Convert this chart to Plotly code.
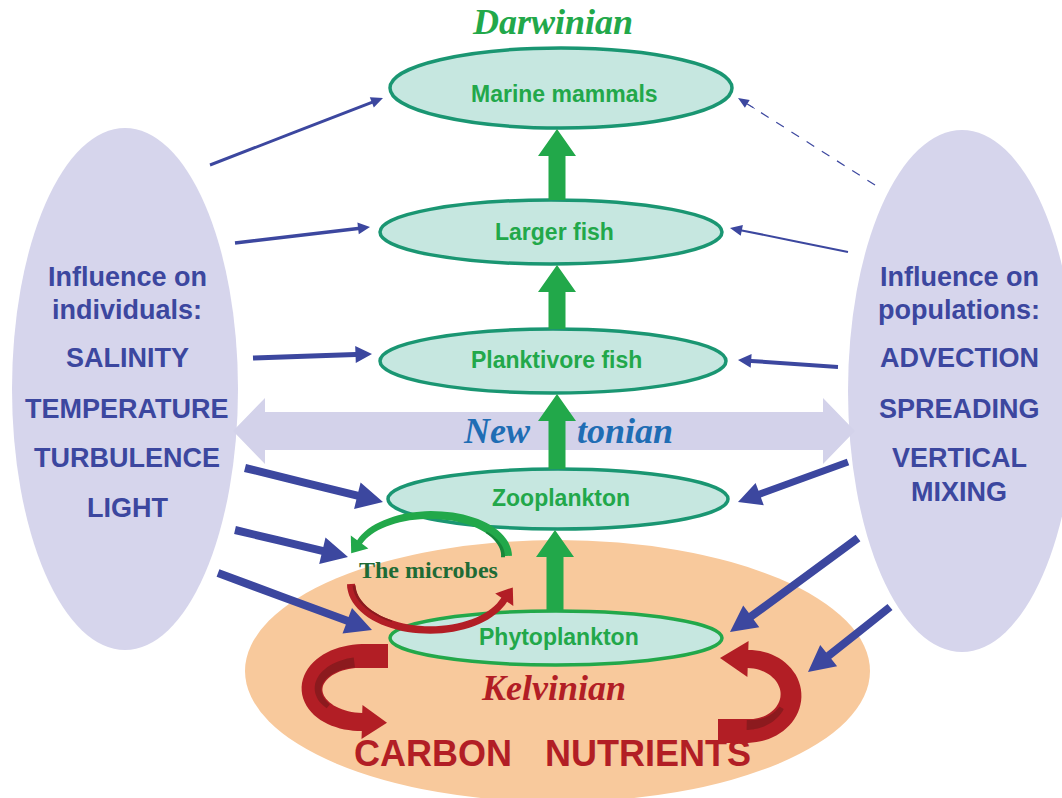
import numpy as np
import plotly.graph_objects as go

W, H = 1062, 798

# ---- data -------------------------------------------------------------
node_names = ["Marine mammals", "Larger fish", "Planktivore fish", "Zooplankton", "Phytoplankton"]
node_cx = [561, 551, 553, 558, 556]
node_cy = [88, 232, 361, 499, 638]
node_rx = [171, 171, 173, 170, 166]
node_ry = [40, 32, 32, 30, 27]
label_dy = [6, 0, -1, -1, -1]

left_lines = ["Influence on", "individuals:", "SALINITY", "TEMPERATURE", "TURBULENCE", "LIGHT"]
left_y = [277, 310, 358, 409, 458, 508]
right_lines = ["Influence on", "populations:", "ADVECTION", "SPREADING", "VERTICAL", "MIXING"]
right_y = [277, 310, 358, 409, 458, 492]

# blue influence arrows: start, end, width
blue_start = [(210, 165), (235, 243), (253, 358), (245, 468), (235, 530), (218, 573),
              (875, 185), (848, 252), (838, 367), (848, 462), (858, 538), (890, 607)]
blue_end = [(383, 98), (370, 227), (372, 354), (383, 502), (348, 557), (372, 630),
            (738, 98), (730, 228), (738, 360), (738, 502), (730, 632), (808, 672)]
blue_width = [3, 3.5, 5, 8, 8, 8, 1.2, 2, 4, 7, 8, 8]
blue_dashed = [False] * 6 + [True] + [False] * 5

# colours
LAV = "#d6d5ec"
ORANGE = "#f8c99c"
NODE_FILL = "#c6e7e0"
NODE_LINE = "#1a9672"
PHYTO_LINE = "#22a84a"
GREEN = "#22a84a"
BLUE = "#3c479f"
RED = "#b21e25"
DARK_RED = "#8c1a1e"
TXT_BLUE = "#3c479f"


def thick_path(pts, w0, w1, hw=None, hl=None):
    pts = np.asarray(pts, dtype=float)
    n = len(pts)
    d = np.gradient(pts, axis=0)
    d /= np.linalg.norm(d, axis=1)[:, None]
    nrm = np.stack([-d[:, 1], d[:, 0]], axis=1)
    w = np.linspace(w0, w1, n)[:, None]
    left = pts + nrm * w / 2
    right = pts - nrm * w / 2
    head = []
    if hw is not None:
        tan = d[-1]
        nl = nrm[-1]
        base = pts[-1]
        head = [base + nl * hw / 2, base + tan * hl, base - nl * hw / 2]
    seq = list(left) + head + list(right[::-1])
    return "M " + " L ".join(f"{p[0]:.1f},{p[1]:.1f}" for p in seq) + " Z"


def straight(x0, y0, x1, y1, w, hw, hl):
    v = np.array([x1 - x0, y1 - y0], float)
    L = np.linalg.norm(v)
    u = v / L
    base = np.array([x1, y1]) - u * hl
    pts = [np.array([x0, y0], float), (np.array([x0, y0]) + base) / 2, base]
    return thick_path(pts, w, w, hw, hl)


def arc(cx, cy, rx, ry, t0, t1, n=40):
    t = np.radians(np.linspace(t0, t1, n))
    return np.stack([cx + rx * np.cos(t), cy + ry * np.sin(t)], axis=1)


shapes = []


def add_path(path, color, layer="above"):
    shapes.append(dict(type="path", path=path, xref="x", yref="y", fillcolor=color,
                       line=dict(width=0), layer=layer))


# background blobs
shapes.append(dict(type="circle", xref="x", yref="y", x0=245, x1=870, y0=540, y1=802,
                   fillcolor=ORANGE, line=dict(width=0), layer="below"))
shapes.append(dict(type="circle", xref="x", yref="y", x0=12, x1=238, y0=128, y1=650,
                   fillcolor=LAV, line=dict(width=0), layer="below"))
shapes.append(dict(type="circle", xref="x", yref="y", x0=848, x1=1076, y0=130, y1=652,
                   fillcolor=LAV, line=dict(width=0), layer="below"))

# Newtonian double arrow
nt_y, band, head_w, head_l, xl, xr = 431, 38, 66, 32, 233, 855
p = [(xl, nt_y), (xl + head_l, nt_y - head_w / 2), (xl + head_l, nt_y - band / 2),
     (xr - head_l, nt_y - band / 2), (xr - head_l, nt_y - head_w / 2), (xr, nt_y),
     (xr - head_l, nt_y + head_w / 2), (xr - head_l, nt_y + band / 2),
     (xl + head_l, nt_y + band / 2), (xl + head_l, nt_y + head_w / 2)]
add_path("M " + " L ".join(f"{a},{b}" for a, b in p) + " Z", "#d3d2ea")

# nodes
for i in range(len(node_names)):
    shapes.append(dict(type="circle", xref="x", yref="y",
                       x0=node_cx[i] - node_rx[i], x1=node_cx[i] + node_rx[i],
                       y0=node_cy[i] - node_ry[i], y1=node_cy[i] + node_ry[i],
                       fillcolor=NODE_FILL,
                       line=dict(color=PHYTO_LINE if i == 4 else NODE_LINE, width=3.5),
                       layer="above"))

# green trophic arrows (lower node -> upper node)
for i in range(len(node_names) - 1):
    x = 557 if i < 3 else 555
    y_from = node_cy[i + 1] - node_ry[i + 1]
    y_to = node_cy[i] + node_ry[i] + 1
    add_path(straight(x, y_from, x, y_to, 17, 38, 27), GREEN)

# blue arrows
for (s, e, w, dash) in zip(blue_start, blue_end, blue_width, blue_dashed):
    hw = max(11, w * 3.4)
    hl = max(12, w * 3.3)
    if dash:
        v = np.array(e, float) - np.array(s, float)
        u = v / np.linalg.norm(v)
        base = np.array(e) - u * 11
        shapes.append(dict(type="line", xref="x", yref="y", x0=s[0], y0=s[1],
                           x1=base[0], y1=base[1],
                           line=dict(color=BLUE, width=1.2, dash="dash")))
        add_path(thick_path([np.array(s, float) + u * (np.linalg.norm(v) - 20), base], 0.5, 0.5, 9, 11), BLUE)
    else:
        add_path(straight(s[0], s[1], e[0], e[1], w, hw, hl), BLUE)

# microbe loop arrows
g = arc(431, 556, 76, 41, 0, -160)
add_path(thick_path(g, 10, 6, 22, 14), GREEN)
add_path(thick_path(arc(431, 556, 72, 37, 2, -40, 12), 4, 2), "#17873a")
r = arc(430, 584, 79, 46, 180, 20)
add_path(thick_path(r, 8, 7, 22, 15), RED)
add_path(thick_path(arc(430, 584, 76, 43, 178, 120, 12), 3, 1.5), DARK_RED)

# big red carbon / nutrient arrows
tail = np.array([[388, 656], [375, 656], [362, 656]], float)
lc = arc(362, 689, 50, 33, -90, -270)
add_path(thick_path(np.vstack([tail, lc[1:]]), 24, 18, 34, 25), RED)
add_path(thick_path(arc(362, 689, 44, 27, -100, -220, 30), 10, 5), DARK_RED)

tail2 = np.array([[718, 731], [733, 731], [748, 731]], float)
rc = arc(748, 695, 43, 36, 90, -90)
add_path(thick_path(np.vstack([tail2, rc[1:]]), 24, 18, 36, 28), RED)
add_path(thick_path(arc(748, 695, 37, 30, 92, 25, 30), 10, 5), DARK_RED)

# ---- annotations -------------------------------------------------------
ann = []
SANS = "Liberation Sans, Arial, sans-serif"
SERIF = "Liberation Serif, Times New Roman, serif"


def txt(x, y, s, size, color, family=SANS, xanchor="center"):
    ann.append(dict(x=x, y=y, xref="x", yref="y", text=s, showarrow=False,
                    xanchor=xanchor, yanchor="middle",
                    font=dict(size=size, color=color, family=family)))


for i, name in enumerate(node_names):
    txt(node_cx[i] + 3, node_cy[i] + label_dy[i], f"<b>{name}</b>", 23, GREEN)

for s, y in zip(left_lines, left_y):
    txt(127, y, f"<b>{s}</b>", 27, TXT_BLUE)
for s, y in zip(right_lines, right_y):
    txt(959, y, f"<b>{s}</b>", 27, TXT_BLUE)

txt(552, 22, "<b><i>Darwinian</i></b>", 36, GREEN, SERIF)
txt(533, 431, "<b><i>New</i></b>", 36, "#1f6db4", SERIF, xanchor="right")
txt(575, 431, "<b><i>tonian</i></b>", 36, "#1f6db4", SERIF, xanchor="left")
txt(553, 688, "<b><i>Kelvinian</i></b>", 36, RED, SERIF)
txt(428, 570, "<b>The microbes</b>", 24, "#1e6b35", SERIF)
txt(433, 753, "<b>CARBON</b>", 36, RED)
txt(648, 753, "<b>NUTRIENTS</b>", 36, RED)

fig = go.Figure()
fig.add_trace(go.Scatter(x=[0, W], y=[0, H], mode="markers", marker=dict(opacity=0),
                         hoverinfo="skip", showlegend=False))
fig.update_layout(
    width=W, height=H, margin=dict(l=0, r=0, t=0, b=0),
    paper_bgcolor="white", plot_bgcolor="white",
    xaxis=dict(range=[0, W], visible=False, fixedrange=True),
    yaxis=dict(range=[H, 0], visible=False, fixedrange=True),
    shapes=shapes, annotations=ann, showlegend=False,
)
fig.write_html("out.html", config={"displayModeBar": False},
               post_script="document.body.style.margin='0';document.body.style.overflow='hidden';")
